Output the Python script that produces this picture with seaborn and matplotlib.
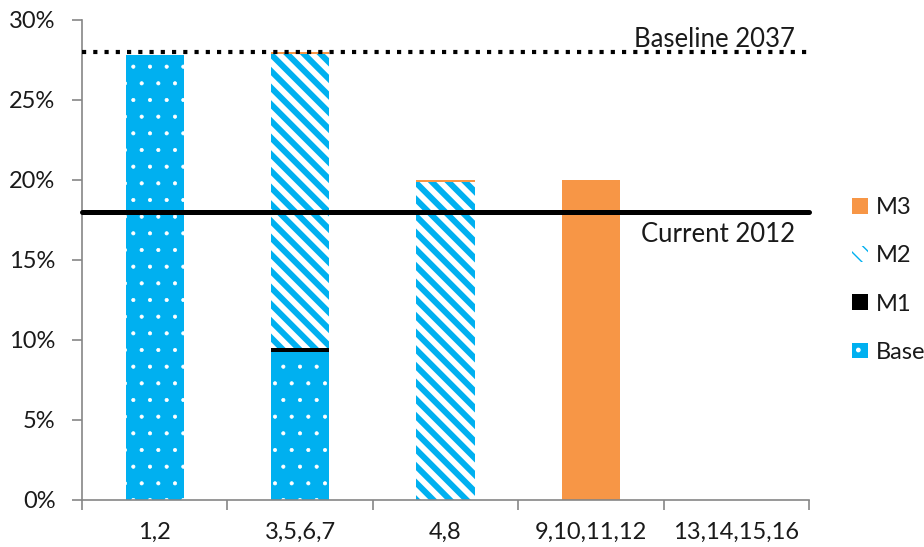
import matplotlib
matplotlib.use("Agg")
import matplotlib.pyplot as plt
from matplotlib.patches import Patch
from matplotlib.ticker import PercentFormatter
import numpy as np
import pandas as pd
import seaborn as sns

# Scenario groups and stacked shares (percent)
groups = ["1,2", "3,5,6,7", "4,8", "9,10,11,12", "13,14,15,16"]
base = [27.8, 9.25, 0.0, 0.0, 0.0]
m1 = [0.0, 0.25, 0.0, 0.0, 0.0]
m2 = [0.0, 18.4, 19.9, 0.0, 0.0]
m3 = [0.0, 0.1, 0.1, 20.0, 0.0]

baseline_2037 = 28.0
current_2012 = 18.0

y_ticks = [0, 5, 10, 15, 20, 25, 30]

BLUE = "#00B0F0"
ORANGE = "#F79646"
GREY = "#868686"
TEXT = "#1a1a1a"

STRIPE_LW = 4.3
DOT_LW = 0.5

sns.set_style("white")
plt.rcParams["font.family"] = ["Lato", "DejaVu Sans"]

df = pd.DataFrame({"group": groups, "base": base, "m1": m1, "m2": m2, "m3": m3})
df["c_base"] = df["base"]
df["c_m1"] = df["c_base"] + df["m1"]
df["c_m2"] = df["c_m1"] + df["m2"]
df["c_m3"] = df["c_m2"] + df["m3"]

fig = plt.figure(figsize=(9.24, 5.47), dpi=100)
ax = fig.add_axes([82 / 924, 1 - 500 / 547, (809 - 82) / 924, 480 / 547])

# Stack by overdrawing cumulative totals, top layer first
layers = [
    ("c_m3", 1.0, dict(color=ORANGE, edgecolor=ORANGE, linewidth=0)),
    ("c_m2", STRIPE_LW, dict(color="white", edgecolor=BLUE, hatch="\\\\", linewidth=0)),
    ("c_m1", 1.0, dict(color="black", edgecolor="black", linewidth=0)),
    ("c_base", DOT_LW, dict(color=BLUE, edgecolor="white", hatch=".", linewidth=0)),
]
for col, hlw, style in layers:
    with plt.rc_context({"hatch.linewidth": hlw}):
        sns.barplot(data=df, x="group", y=col, order=groups, width=0.4,
                    errorbar=None, ax=ax, saturation=1, **style)

# Reference lines
ax.axhline(baseline_2037, color="black", lw=3.0, linestyle=(0, (1, 1.7)),
           dash_capstyle="butt", zorder=5, clip_on=False)
ax.axhline(current_2012, color="black", lw=3.6, zorder=5, clip_on=False)
ax.text(4.404, 28.31, "Baseline 2037", ha="right", va="baseline", fontsize=18.5, color=TEXT)
ax.text(4.404, 16.125, "Current 2012", ha="right", va="baseline", fontsize=18.5, color=TEXT)

ax.set_xlim(-0.5, 4.5)
ax.set_ylim(0, 30)
ax.set_xlabel("")
ax.set_ylabel("")

# Axis styling
for side in ["top", "right"]:
    ax.spines[side].set_visible(False)
for side in ["left", "bottom"]:
    ax.spines[side].set_color(GREY)
    ax.spines[side].set_linewidth(1.2)

ax.set_yticks(y_ticks)
ax.yaxis.set_major_formatter(PercentFormatter(decimals=0))
ax.tick_params(axis="y", length=7, width=1.2, color=GREY, pad=12,
               labelsize=17, labelcolor=TEXT, left=True)

ax.set_xticks(np.arange(-0.5, 5.0, 1.0))
ax.set_xticklabels([])
ax.set_xticks(range(len(groups)), minor=True)
ax.set_xticklabels(groups, minor=True)
ax.tick_params(axis="x", which="major", length=7, width=1.2, color=GREY, bottom=True)
ax.tick_params(axis="x", which="minor", length=0, pad=16, labelsize=17, labelcolor=TEXT)

with plt.rc_context({"hatch.linewidth": STRIPE_LW}):
    h_m2 = Patch(facecolor="white", edgecolor=BLUE, hatch="\\\\", linewidth=0, label="M2")
with plt.rc_context({"hatch.linewidth": DOT_LW}):
    h_base = Patch(facecolor=BLUE, edgecolor="white", hatch=".", linewidth=0, label="Base")
handles = [
    Patch(facecolor=ORANGE, edgecolor=ORANGE, linewidth=0, label="M3"),
    h_m2,
    Patch(facecolor="black", edgecolor="black", linewidth=0, label="M1"),
    h_base,
]
leg = fig.legend(handles=handles, loc="center left", bbox_to_anchor=(843 / 924, 1 - 280 / 547),
                 frameon=False, fontsize=17, handlelength=0.65, handleheight=0.65,
                 handletextpad=0.35, labelspacing=1.15, borderaxespad=0)
for t in leg.get_texts():
    t.set_color(TEXT)

fig.savefig("out.png", dpi=100)
